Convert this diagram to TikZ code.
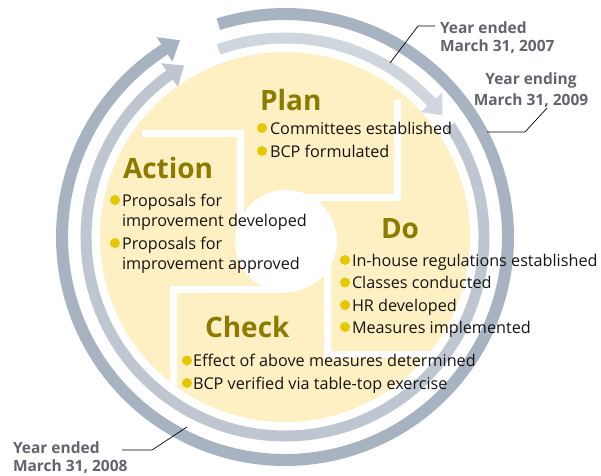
\documentclass[tikz,border=0pt]{standalone}
\usepackage{fontspec}
\setmainfont{Open Sans}
\definecolor{paleyellow}{RGB}{254,240,194}
\definecolor{titleolive}{RGB}{140,123,0}
\definecolor{dotyellow}{RGB}{230,199,0}
\definecolor{bodyblack}{RGB}{20,20,20}
\definecolor{labelgray}{RGB}{95,101,107}
\definecolor{ringdark}{RGB}{167,179,193}
\definecolor{ringmid}{RGB}{190,199,209}
\definecolor{ringlight}{RGB}{208,214,222}
\begin{document}
\begin{tikzpicture}[x=1pt,y=-1pt,
  every node/.style={inner sep=0pt, outer sep=0pt},
  phase/.style={anchor=base west, font=\bfseries\fontsize{28}{28}\selectfont, text=titleolive},
  item/.style={anchor=base west, font=\fontsize{16.2}{22}\selectfont, text=bodyblack},
  dot/.style={circle, fill=dotyellow, minimum size=10pt},
  yearlabel/.style={font=\bfseries\fontsize{15.5}{18}\selectfont, text=labelgray},
  leader/.style={draw=black, line width=0.7pt},
  gapline/.style={draw=white, line width=7pt},
  ring/.style={line width=#1, line cap=butt}
]
\useasboundingbox (0,0) rectangle (601,475);

% pale yellow disc with the four pinwheel corners cut in white
\fill[paleyellow] (285,237) circle[radius=185pt];
\begin{scope}
  \clip (285,237) circle[radius=185pt];
  \draw[gapline] (397,100) -- (397,197) -- (286,197);
  \draw[gapline] (327,241) -- (327,354) -- (445,354);
  \draw[gapline] (286,289) -- (173,289) -- (173,410);
  \draw[gapline] (142,133) -- (240,133) -- (240,241);
\end{scope}
\fill[white] (286,241) circle[radius=51pt];

% outer ring, darkest
\draw[ring=12pt, draw=ringdark] plot[domain=107.4:-238, samples=220, smooth]
  ({285+223*cos(\x)}, {237-223*sin(\x)});
\fill[ringdark] ({285+237.5*cos(122.7)}, {237-237.5*sin(122.7)})
  -- ({285+208.5*cos(122.7)}, {237-208.5*sin(122.7)})
  -- ({285+223*cos(118.1)}, {237-223*sin(118.1)}) -- cycle;

% inner ring, first short piece
\draw[ring=11pt, draw=ringlight] plot[domain=109.5:41.6, samples=60, smooth]
  ({285+199*cos(\x)}, {237-199*sin(\x)});
\fill[ringlight] ({285+213.5*cos(42.6)}, {237-213.5*sin(42.6)})
  -- ({285+184.5*cos(42.6)}, {237-184.5*sin(42.6)})
  -- ({285+199*cos(37.7)}, {237-199*sin(37.7)}) -- cycle;

% inner ring, second long piece
\draw[ring=11pt, draw=ringmid] plot[domain=34:-235.5, samples=220, smooth]
  ({285+199*cos(\x)}, {237-199*sin(\x)});
\fill[ringmid] ({285+213.5*cos(125.5)}, {237-213.5*sin(125.5)})
  -- ({285+184.5*cos(125.5)}, {237-184.5*sin(125.5)})
  -- ({285+199*cos(120.5)}, {237-199*sin(120.5)}) -- cycle;

% Plan
\node[phase] (plan) at (260,110) {Plan};
\node[dot] (pd1) at (262,128) {};
\node[item] (p1) at (270,134) {Committees established};
\node[dot] (pd2) at (262,151) {};
\node[item] (p2) at (270,157) {BCP formulated};

% Action
\node[phase] (action) at (123,178) {Action};
\node[dot] (ad1) at (115,200) {};
\node[item] (a1) at (122,206) {Proposals for};
\node[item] (a1b) at (122,226) {improvement developed};
\node[dot] (ad2) at (115,243) {};
\node[item] (a2) at (122,249) {Proposals for};
\node[item] (a2b) at (122,269) {improvement approved};

% Do
\node[phase] (do) at (381,238) {Do};
\node[dot] (dd1) at (345,260) {};
\node[item] (d1) at (352,266) {In-house regulations established};
\node[dot] (dd2) at (345,282.5) {};
\node[item] (d2) at (352,288.5) {Classes conducted};
\node[dot] (dd3) at (345,305) {};
\node[item] (d3) at (352,311) {HR developed};
\node[dot] (dd4) at (345,327) {};
\node[item] (d4) at (352,333) {Measures implemented};

% Check
\node[phase] (check) at (205,337) {Check};
\node[dot] (cd1) at (187,360.5) {};
\node[item] (c1) at (193,366.5) {Effect of above measures determined};
\node[dot] (cd2) at (187,383) {};
\node[item] (c2) at (193,389) {BCP verified via table-top exercise};

% year labels and their leaders
\node[yearlabel, anchor=base west] (y07a) at (440,33) {Year ended};
\node[yearlabel, anchor=base west] (y07b) at (440,51) {March 31, 2007};
\node[yearlabel, anchor=base] (y09a) at (531,84) {Year ending};
\node[yearlabel, anchor=base] (y09b) at (531,105) {March 31, 2009};
\node[yearlabel, anchor=base west] (y08a) at (13,453) {Year ended};
\node[yearlabel, anchor=base west] (y08b) at (13,471) {March 31, 2008};

\coordinate (t07) at (390,63);
\coordinate (k07) at (418,26);
\coordinate (e07) at (435,26);
\draw[leader] (t07) -- (k07) -- (e07);

\coordinate (t09) at (487,132);
\coordinate (k09) at (525,132);
\coordinate (e09) at (547,108);
\draw[leader] (t09) -- (k09) -- (e09);

\coordinate (e08) at (122,450);
\coordinate (k08) at (152,450);
\coordinate (t08) at (187,427);
\draw[leader] (e08) -- (k08) -- (t08);
\end{tikzpicture}
\end{document}
